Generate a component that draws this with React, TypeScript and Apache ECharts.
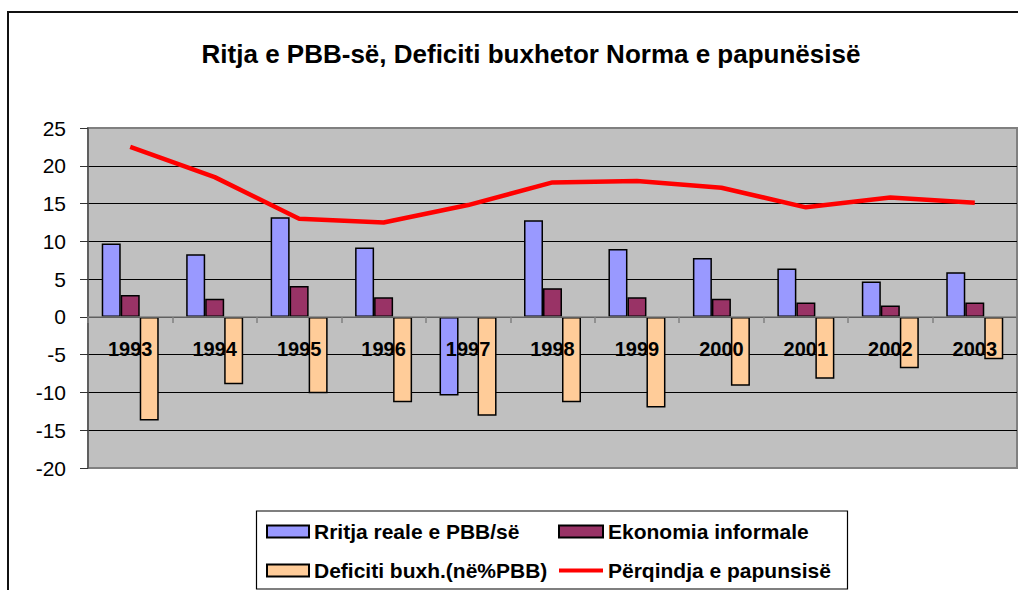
import React, { useEffect, useRef } from "react";
import * as echarts from "echarts";

const years = ["1993", "1994", "1995", "1996", "1997", "1998", "1999", "2000", "2001", "2002", "2003"];
const growth = [9.7, 8.3, 13.2, 9.2, -10.4, 12.8, 9.0, 7.8, 6.4, 4.7, 5.9];
const informal = [2.9, 2.4, 4.1, 2.6, null, 3.8, 2.6, 2.4, 1.9, 1.5, 1.9];
const deficit = [-13.7, -8.9, -10.1, -11.3, -13.1, -11.3, -12.0, -9.1, -8.2, -6.8, -5.6];
const unemployment = [22.5, 18.5, 13.0, 12.5, 14.8, 17.8, 18.0, 17.1, 14.5, 15.8, 15.1];

const titleText = "Ritja e PBB-së, Deficiti buxhetor Norma e papunësisë";
const names = ["Rritja reale e PBB/së", "Ekonomia informale", "Deficiti buxh.(në%PBB)", "Përqindja e papunsisë"];

const FONT = "'Liberation Sans', Arial, Helvetica, sans-serif";

export default function App() {
  const ref = useRef<HTMLDivElement>(null);
  useEffect(() => {
    document.body.style.margin = "0";
    const chart = echarts.init(ref.current!, null, { renderer: "svg" });
    const barBorder = { borderColor: "#000", borderWidth: 1.5 };
    const legendText = { fontSize: 21, fontWeight: "bold" as const, color: "#000", fontFamily: FONT, lineHeight: 20 };
    const gridTop = 128;
    const gridBottom = 122;
    const yMin = -20;
    const yMax = 25;
    const plotH = 590 - gridTop - gridBottom;
    const zeroOffset = -(plotH * (0 - yMin)) / (yMax - yMin);
    chart.setOption({
      animation: false,
      backgroundColor: "#fff",
      textStyle: { fontFamily: FONT },
      graphic: [
        {
          type: "rect",
          shape: { x: 8, y: 12, width: 1200, height: 800 },
          style: { fill: "none", stroke: "#111", lineWidth: 2 },
          silent: true,
          z: -10,
        },
        {
          type: "text",
          x: 531,
          y: 54,
          style: {
            text: titleText,
            fontSize: 26,
            fontWeight: "bold",
            fontFamily: FONT,
            fill: "#000",
            textAlign: "center",
            textVerticalAlign: "middle",
          },
        },
        {
          type: "rect",
          shape: { x: 256.5, y: 511, width: 591, height: 78 },
          style: { fill: "none", stroke: "#000", lineWidth: 1.2 },
          silent: true,
        },
      ],
      grid: {
        left: 88,
        right: 1,
        top: gridTop,
        bottom: gridBottom,
        show: true,
        backgroundColor: "#C0C0C0",
        borderColor: "#808080",
        borderWidth: 2,
      },
      legend: [
        {
          data: [
            { name: names[0], icon: "rect" },
            { name: names[2], icon: "rect" },
          ],
          orient: "vertical",
          left: 266,
          top: 521,
          padding: 0,
          itemWidth: 42,
          itemHeight: 12,
          itemGap: 18,
          textStyle: legendText,
        },
        {
          data: [
            { name: names[1], icon: "rect" },
            { name: names[3], icon: "path://M0,0 L48,0 L48,4.5 L0,4.5 Z" },
          ],
          orient: "vertical",
          left: 558,
          top: 521,
          padding: 0,
          itemWidth: 44,
          itemHeight: 12,
          itemGap: 18,
          textStyle: legendText,
        },
      ],
      xAxis: {
        type: "category",
        data: years,
        z: 10,
        position: "bottom",
        offset: zeroOffset,
        axisLine: { onZero: false, lineStyle: { color: "#808080", width: 1.5 } },
        axisTick: { show: true, length: 6, lineStyle: { color: "#808080", width: 1.5 } },
        axisLabel: { fontSize: 20, fontWeight: "bold", color: "#000", margin: 22, fontFamily: FONT },
        splitLine: { show: false },
      },
      yAxis: {
        type: "value",
        min: yMin,
        max: yMax,
        interval: 5,
        axisLine: { show: true, lineStyle: { color: "#555", width: 1.5 } },
        axisTick: { show: true, length: 8, lineStyle: { color: "#333" } },
        axisLabel: { fontSize: 21, color: "#000", margin: 22, fontFamily: FONT },
        splitLine: {
          show: true,
          lineStyle: {
            color: ["#808080", "#000", "#000", "#000", "#000", "#000", "#000", "#000", "#000", "#808080"],
            width: 1,
          },
        },
      },
      series: [
        {
          name: names[0],
          type: "bar",
          data: growth,
          barWidth: 19,
          barGap: "0%",
          itemStyle: { color: "#9999FF", ...barBorder },
        },
        {
          name: names[1],
          type: "bar",
          data: informal,
          barWidth: 19,
          barGap: "0%",
          itemStyle: { color: "#993366", ...barBorder },
        },
        {
          name: names[2],
          type: "bar",
          data: deficit,
          barWidth: 19,
          barGap: "0%",
          itemStyle: { color: "#FFCC99", ...barBorder },
        },
        {
          name: names[3],
          type: "line",
          data: unemployment,
          symbol: "none",
          z: 5,
          lineStyle: { color: "#FF0000", width: 4.5 },
          itemStyle: { color: "#FF0000" },
        },
      ],
    });
    return () => chart.dispose();
  }, []);
  return <div ref={ref} style={{ width: 1018, height: 590 }} />;
}
